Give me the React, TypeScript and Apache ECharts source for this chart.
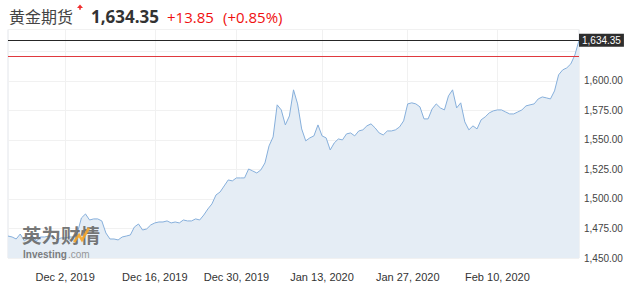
import React, { useEffect, useRef } from "react";
import * as echarts from "echarts";

const title = "黄金期货";
const lastPrice = 1634.35;
const lastPriceText = "1,634.35";
const changeText = "+13.85";
const changePctText = "(+0.85%)";
const prevClose = 1620.5;

const prices = [
  1468.6, 1467.8, 1466.1, 1470.3, 1464.5, 1467.0, 1468.6, 1464.4, 1467.8, 1467.8,
  1468.6, 1468.6, 1465.3, 1467.0, 1467.0, 1467.8, 1467.8, 1471.2, 1483.9, 1487.3,
  1482.2, 1483.1, 1483.1, 1481.4, 1471.2, 1466.1, 1466.1, 1465.3, 1467.8, 1468.6,
  1469.5, 1476.3, 1478.8, 1473.7, 1474.6, 1478.0, 1479.7, 1480.5, 1480.5, 1481.4,
  1479.7, 1480.5, 1479.7, 1482.2, 1481.4, 1481.4, 1483.1, 1482.2, 1486.4, 1491.5,
  1495.8, 1503.4, 1505.9, 1511.0, 1516.1, 1515.3, 1517.8, 1517.8, 1517.8, 1525.4,
  1523.7, 1522.0, 1524.6, 1530.5, 1544.9, 1552.5, 1579.7, 1575.4, 1562.7, 1570.3,
  1592.4, 1580.5, 1559.3, 1549.2, 1551.7, 1553.4, 1562.7, 1553.4, 1551.7, 1541.5,
  1547.5, 1550.8, 1550.0, 1555.1, 1555.9, 1553.4, 1557.6, 1558.5, 1561.9, 1563.6,
  1560.2, 1555.9, 1554.2, 1557.6, 1557.6, 1558.5, 1561.0, 1566.1, 1580.5, 1581.4,
  1580.5, 1578.0, 1567.8, 1567.8, 1576.3, 1580.5, 1577.1, 1575.4, 1587.3, 1592.4,
  1577.1, 1581.4, 1565.3, 1558.5, 1561.9, 1559.3, 1567.0, 1569.5, 1572.9, 1574.6,
  1575.4, 1575.4, 1573.7, 1572.0, 1572.0, 1573.7, 1575.4, 1578.8, 1579.7, 1580.5,
  1584.7, 1586.4, 1585.6, 1584.7, 1591.5, 1605.1, 1609.3, 1611.0, 1614.4, 1622.0,
  1634.35,
];

const tickIndices = [14, 36, 56, 77, 98, 120];
const tickLabels = [
  "Dec 2, 2019",
  "Dec 16, 2019",
  "Dec 30, 2019",
  "Jan 13, 2020",
  "Jan 27, 2020",
  "Feb 10, 2020",
];

const yMin = 1450;
const yMax = 1643.5;
const yStep = 25;
const yLabelMax = 1600;

export default function App() {
  const ref = useRef<HTMLDivElement>(null);

  useEffect(() => {
    if (!ref.current) return;
    const chart = echarts.init(ref.current, null, { renderer: "svg" });
    const categories = prices.map((_, i) => String(i));
    const isTick = (i: number) => tickIndices.indexOf(i) >= 0;

    chart.setOption({
      animation: false,
      grid: {
        left: 8,
        right: 62,
        top: 29.5,
        bottom: 37,
        show: true,
        borderColor: "#e2e5ea",
        borderWidth: 1,
      },
      xAxis: {
        type: "category",
        data: categories,
        boundaryGap: false,
        axisLine: { show: false },
        axisTick: { show: false },
        axisLabel: {
          interval: (i: number) => isTick(i),
          formatter: (v: string) => {
            const k = tickIndices.indexOf(Number(v));
            return k >= 0 ? tickLabels[k] : "";
          },
          color: "#333",
          fontSize: 11,
          fontFamily: "Arial, 'Liberation Sans', sans-serif",
          margin: 13,
        },
        splitLine: {
          show: true,
          interval: (i: number) => isTick(i),
          lineStyle: { color: "#f1f1f1", width: 1 },
        },
      },
      yAxis: {
        type: "value",
        position: "right",
        min: yMin,
        max: yMax,
        interval: yStep,
        axisLine: { show: false },
        axisTick: { show: false },
        axisLabel: {
          formatter: (v: number) =>
            v <= yLabelMax && Math.abs(v % yStep) < 1e-6
              ? v.toLocaleString("en-US", { minimumFractionDigits: 2, maximumFractionDigits: 2 })
              : "",
          color: "#444",
          fontSize: 10,
          fontFamily: "Arial, 'Liberation Sans', sans-serif",
          margin: 5,
        },
        splitLine: { show: true, lineStyle: { color: "#f1f1f1", width: 1 } },
      },
      series: [
        {
          type: "line",
          data: prices,
          symbol: "none",
          lineStyle: { color: "#86afdb", width: 1 },
          areaStyle: { color: "#e5edf5", opacity: 1 },
          markLine: {
            silent: true,
            symbol: "none",
            data: [
              {
                yAxis: lastPrice,
                lineStyle: { color: "#262626", width: 1, type: "solid" },
                label: {
                  show: true,
                  position: "end",
                  distance: 0,
                  formatter: lastPriceText,
                  color: "#fff",
                  backgroundColor: "#2e2e2e",
                  padding: [2, 3, 1, 3],
                  fontSize: 10,
                  fontFamily: "Arial, 'Liberation Sans', sans-serif",
                },
              },
              {
                yAxis: prevClose,
                lineStyle: { color: "#e0393e", width: 1, type: "solid" },
                label: { show: false },
              },
            ],
          },
        },
      ],
      graphic: [
        {
          type: "text",
          x: 9,
          y: 16,
          style: {
            text: title,
            fill: "#444",
            fontSize: 16,
            fontFamily: "'Noto Sans CJK SC', sans-serif",
            verticalAlign: "middle",
          },
        },
        {
          type: "polygon",
          shape: { points: [[77, 8], [80, 4.5], [83, 8]] },
          style: { fill: "#f03030" },
        },
        {
          type: "rect",
          shape: { x: 79.2, y: 7.5, width: 1.6, height: 2.2 },
          style: { fill: "#f03030" },
        },
        {
          type: "text",
          x: 91,
          y: 16.5,
          style: {
            text: lastPriceText,
            fill: "#333",
            fontSize: 17,
            fontWeight: "bold",
            fontFamily: "'Open Sans', Arial, sans-serif",
            verticalAlign: "middle",
          },
        },
        {
          type: "text",
          x: 167,
          y: 16.5,
          style: {
            text: changeText,
            fill: "#f01010",
            fontSize: 15,
            fontFamily: "'Open Sans', Arial, sans-serif",
            verticalAlign: "middle",
          },
        },
        {
          type: "text",
          x: 223,
          y: 16.5,
          style: {
            text: changePctText,
            fill: "#f01010",
            fontSize: 15,
            fontFamily: "'Open Sans', Arial, sans-serif",
            verticalAlign: "middle",
          },
        },
        {
          type: "text",
          x: 22,
          y: 234,
          z: 10,
          style: {
            text: "英为财情",
            fill: "rgba(95,95,95,0.85)",
            fontSize: 19.5,
            lineHeight: 19,
            fontWeight: "bold",
            fontFamily: "'Noto Sans CJK SC', sans-serif",
            verticalAlign: "middle",
          },
        },
        {
          type: "polyline",
          z: 11,
          shape: { points: [[74, 242], [79, 235], [82, 240], [89, 228]] },
          style: { stroke: "rgba(245,165,40,0.9)", lineWidth: 2.5, fill: "none" },
        },
        {
          type: "text",
          x: 23,
          y: 254,
          z: 10,
          style: {
            text: "Investing",
            fill: "rgba(110,110,110,0.9)",
            fontSize: 10,
            lineHeight: 11,
            fontWeight: "bold",
            fontFamily: "Arial, 'Liberation Sans', sans-serif",
            verticalAlign: "middle",
          },
        },
        {
          type: "text",
          x: 68,
          y: 254,
          z: 10,
          style: {
            text: ".com",
            fill: "rgba(140,140,140,0.9)",
            fontSize: 10,
            lineHeight: 11,
            fontFamily: "Arial, 'Liberation Sans', sans-serif",
            verticalAlign: "middle",
          },
        },
      ],
    });

    return () => chart.dispose();
  }, []);

  return (
    <div
      ref={ref}
      style={{ position: "absolute", left: 0, top: 0, width: 641, height: 295, background: "#fff" }}
    />
  );
}
